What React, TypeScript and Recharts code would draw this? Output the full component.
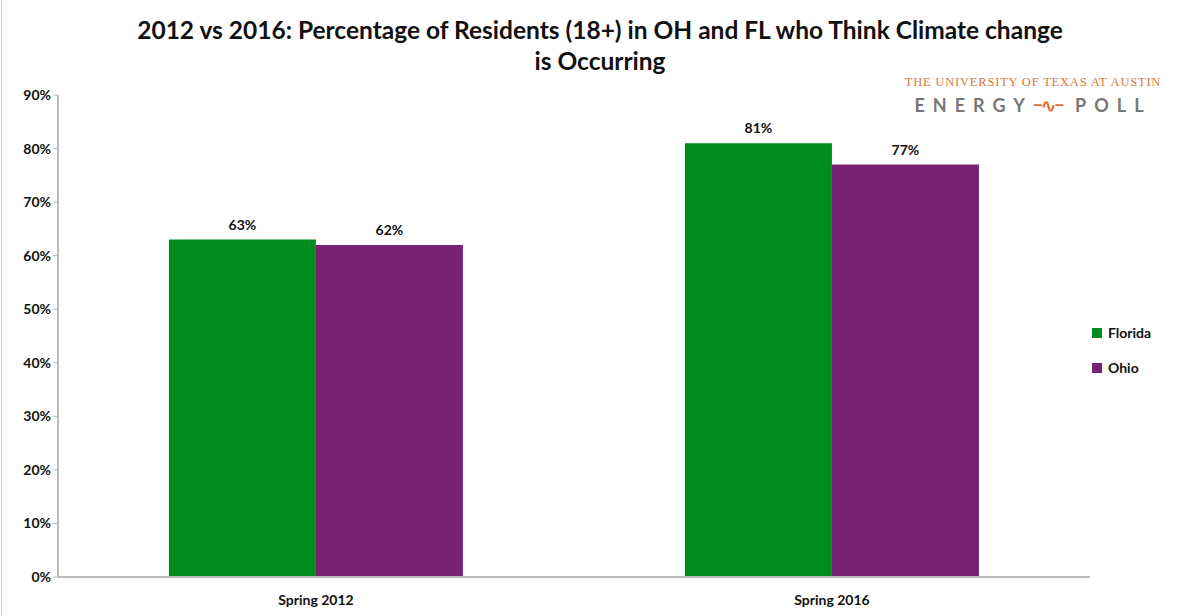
import { BarChart, Bar, XAxis, YAxis, LabelList } from "recharts";

const categories = ["Spring 2012", "Spring 2016"];
const florida = [63, 81];
const ohio = [62, 77];
const yTicks = [0, 10, 20, 30, 40, 50, 60, 70, 80, 90];

const GREEN = "#008c1e";
const PURPLE = "#792173";
const FONT = "Lato, 'Open Sans', sans-serif";

const data = categories.map((name, i) => ({ name, florida: florida[i], ohio: ohio[i] }));

export default function App() {
  return (
    <div style={{ position: "absolute", left: 0, top: 0, width: 1200, height: 616, background: "#fff", fontFamily: FONT }}>
      <div style={{ position: "absolute", left: 1, top: 0, width: 1, height: 616, background: "#ccc" }} />
      <div style={{ position: "absolute", left: 0, top: 14, width: 1200, textAlign: "center", fontWeight: 700, fontSize: 24.5, lineHeight: "31px", color: "#111" }}>
        2012 vs 2016: Percentage of Residents (18+) in OH and FL who Think Climate change
        <br />
        is Occurring
      </div>
      <div style={{ position: "absolute", left: 893, top: 75, width: 280, textAlign: "center", whiteSpace: "nowrap", fontFamily: "'Liberation Serif', serif", fontSize: 12.5, letterSpacing: 0.8, color: "#d8783a" }}>
        THE UNIVERSITY OF TEXAS AT AUSTIN
      </div>
      <div style={{ position: "absolute", left: 893, top: 94, width: 280, textAlign: "center", whiteSpace: "nowrap", fontSize: 18, letterSpacing: 8, color: "#777", fontWeight: 700 }}>
        ENERGY<span style={{ color: "#e07030", letterSpacing: -2 }}>−∿−</span> POLL
      </div>
      <BarChart
        width={1200}
        height={616}
        data={data}
        margin={{ top: 95, right: 110, bottom: 0, left: 0 }}
        barCategoryGap="21.5%"
        barGap={0}
      >
        <XAxis
          dataKey="name"
          height={39}
          tickLine={false}
          axisLine={{ stroke: "#bbb", strokeWidth: 2 }}
          tick={{ fontSize: 14, fontWeight: 700, fill: "#111", fontFamily: FONT }}
          tickMargin={12}
        />
        <YAxis
          domain={[0, 90]}
          ticks={yTicks}
          tickFormatter={(v) => `${v}%`}
          axisLine={{ stroke: "#bbb", strokeWidth: 2 }}
          tickLine={{ stroke: "#bbb" }}
          tickSize={5}
          width={58}
          tick={{ fontSize: 14, fontWeight: 700, fill: "#111", fontFamily: FONT }}
          interval={0}
        />
        <Bar dataKey="florida" fill={GREEN} isAnimationActive={false}>
          <LabelList dataKey="florida" position="top" offset={10} formatter={(v: any) => `${v}%`} style={{ fontSize: 14, fontWeight: 700, fill: "#111", fontFamily: FONT }} />
        </Bar>
        <Bar dataKey="ohio" fill={PURPLE} isAnimationActive={false}>
          <LabelList dataKey="ohio" position="top" offset={10} formatter={(v: any) => `${v}%`} style={{ fontSize: 14, fontWeight: 700, fill: "#111", fontFamily: FONT }} />
        </Bar>
      </BarChart>
      {[["Florida", GREEN, 333], ["Ohio", PURPLE, 368]].map(([label, color, y]) => (
        <div key={label as string} style={{ position: "absolute", left: 1092, top: (y as number) - 9, display: "flex", alignItems: "center", fontSize: 14, fontWeight: 700, color: "#111" }}>
          <span style={{ width: 10, height: 10, background: color as string, marginRight: 6 }} />
          {label}
        </div>
      ))}
    </div>
  );
}
